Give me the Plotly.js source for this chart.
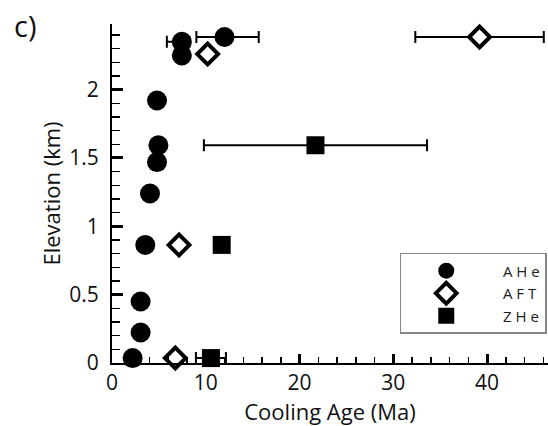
<!DOCTYPE html>
<html>
<head>
<meta charset="utf-8">
<script src="https://cdn.plot.ly/plotly-3.0.1.min.js"></script>
<style>html,body{margin:0;padding:0;background:#fff}#chart{width:548px;height:426px}</style>
</head>
<body>
<div id="chart"></div>
<script>
// AHe (apatite He) ages, Ma, and sample elevations, km
var aheAge = [7.45, 12.0, 7.45, 4.8, 4.95, 4.8, 4.05, 3.55, 3.05, 3.05, 2.2];
var aheElev = [2.35, 2.385, 2.25, 1.92, 1.593, 1.47, 1.24, 0.864, 0.45, 0.223, 0.036];
var aheErrPlus = [0.8, 3.65, null, null, null, null, null, null, null, null, null];
var aheErrMinus = [1.6, 3.0, null, null, null, null, null, null, null, null, null];

// AFT (apatite fission track)
var aftAge = [10.2, 7.15, 6.75, 39.2];
var aftElev = [2.26, 0.864, 0.036, 2.385];
var aftErr = [null, null, null, 6.85];

// ZHe (zircon He)
var zheAge = [11.7, 21.7, 10.55];
var zheElev = [0.864, 1.593, 0.036];
var zheErr = [null, 11.9, 1.6];

var seriesNames = ['\u00a0\u00a0\u00a0A H e', '\u00a0\u00a0\u00a0A F T', '\u00a0\u00a0\u00a0Z H e'];
var xTicks = [0, 10, 20, 30, 40];
var yTicks = [0, 0.5, 1, 1.5, 2];
var yTickText = ['0', '0.5', '1', '1.5', '2'];

var FONT = 'Open Sans, Noto Sans, sans-serif';
var INK = '#111';
var errStyle = {type: 'data', symmetric: false, color: '#000', thickness: 2, width: 6};

var traces = [
  {
    x: aheAge, y: aheElev, name: seriesNames[0], type: 'scatter', mode: 'markers', cliponaxis: false,
    marker: {symbol: 'circle', size: 20, color: '#000'},
    error_x: Object.assign({}, errStyle, {array: aheErrPlus, arrayminus: aheErrMinus})
  },
  {
    x: aftAge, y: aftElev, name: seriesNames[1], type: 'scatter', mode: 'markers', cliponaxis: false,
    marker: {symbol: 'diamond', size: 16, color: '#fff', line: {width: 4, color: '#000'}},
    error_x: Object.assign({}, errStyle, {symmetric: true, array: aftErr})
  },
  {
    x: zheAge, y: zheElev, name: seriesNames[2], type: 'scatter', mode: 'markers', cliponaxis: false,
    marker: {symbol: 'square', size: 18, color: '#000'},
    error_x: Object.assign({}, errStyle, {symmetric: true, array: zheErr})
  }
];

var layout = {
  width: 548, height: 426,
  margin: {l: 112, r: 0, t: 23.5, b: 62.7},
  paper_bgcolor: '#fff', plot_bgcolor: '#fff',
  font: {family: FONT, color: INK, size: 21},
  showlegend: true,
  legend: {
    x: 0.66, y: 0.3246, xanchor: 'left', yanchor: 'top',
    bordercolor: '#888', borderwidth: 1.5, bgcolor: '#fff',
    font: {family: FONT, size: 15, color: '#222'},
    itemwidth: 80, itemsizing: 'trace'
  },
  xaxis: {
    range: [0, 46.5], tickvals: xTicks, ticktext: xTicks.map(String),
    showgrid: false, zeroline: false, showline: true, linecolor: '#000', linewidth: 2,
    ticks: 'inside', ticklen: 9, tickwidth: 3, tickcolor: '#000',
    minor: {dtick: 2, ticks: 'inside', ticklen: 6, tickwidth: 1.5, tickcolor: '#000', showgrid: false},
    tickfont: {family: FONT, size: 21, color: INK},
    ticklabelstandoff: 0,
    title: {text: 'Cooling Age (Ma)', font: {family: FONT, size: 22, color: INK}, standoff: 5}
  },
  yaxis: {
    range: [0, 2.48], tickvals: yTicks, ticktext: yTickText,
    showgrid: false, zeroline: false, showline: true, linecolor: '#000', linewidth: 2,
    ticks: 'inside', ticklen: 11, tickwidth: 3, tickcolor: '#000',
    minor: {dtick: 0.1, ticks: 'inside', ticklen: 8, tickwidth: 1.5, tickcolor: '#000', showgrid: false},
    tickfont: {family: FONT, size: 21, color: INK},
    ticklabelstandoff: 7,
    title: {text: 'Elevation (km)', font: {family: FONT, size: 22, color: INK}, standoff: 3}
  },
  annotations: [
    {text: 'c)', xref: 'paper', yref: 'paper', x: -0.1995, y: 0.9956, xanchor: 'center', yanchor: 'middle',
     showarrow: false, font: {family: FONT, size: 29, color: INK}}
  ]
};

Plotly.newPlot('chart', traces, layout, {displayModeBar: false, staticPlot: true});
</script>
</body>
</html>
